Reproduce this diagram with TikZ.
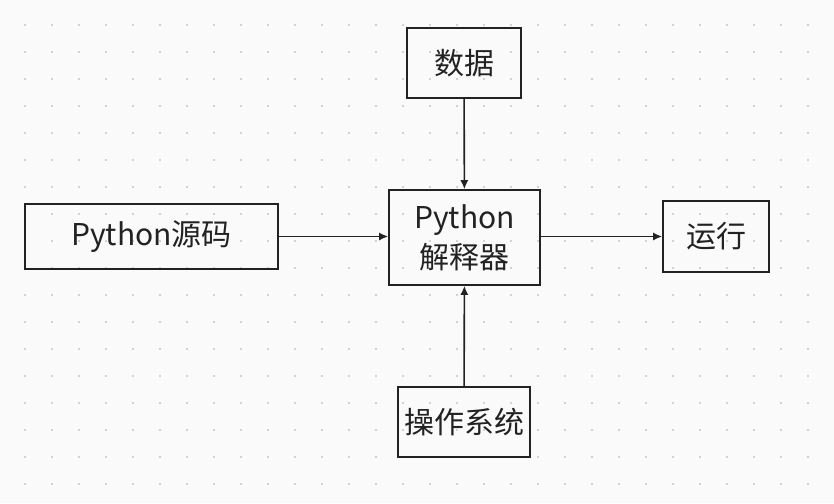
\documentclass[tikz,border=0pt]{standalone}
\usepackage{fontspec}
\setmainfont{Noto Sans CJK SC}
\usepackage{tikz}
\usetikzlibrary{arrows.meta}
\definecolor{bgpaper}{HTML}{FAFAFA}
\definecolor{griddot}{HTML}{D2D2D2}
\definecolor{ink}{HTML}{222222}
\tikzstyle{block} = [rectangle, draw=ink, line width=1.6pt, inner sep=0pt, align=center, font=\fontsize{30}{40}\selectfont, text=ink]
\tikzstyle{line} = [draw, color=ink, line width=1.6pt, -{Latex[length=9pt,width=8pt]}]

\begin{document}
\begin{tikzpicture}[x=1pt, y=-1pt]
		% Background and dots
		\fill[bgpaper] (0,0) rectangle (834,503);
		\useasboundingbox (0,0) rectangle (834,503);
		\foreach \i in {0,...,29}
			\foreach \j in {0,...,17}
				\fill[griddot] ({25+27*\i-1},{25+27*\j-1}) rectangle +(2,2);
		% Place nodes
		\node [block, minimum width=114pt, minimum height=70pt] (data) at (464,63) {数据};
		\node [block, minimum width=151pt, minimum height=95pt] (interp) at (464.5,237.5) {Python\\解释器};
		\node [block, minimum width=253pt, minimum height=65pt] (source) at (151.5,236.5) {Python源码};
		\node [block, minimum width=106pt, minimum height=71pt] (run) at (716,236.5) {运行};
		\node [block, minimum width=132pt, minimum height=70pt] (os) at (464,422) {操作系统};
		% Draw edges
		\path [line] (data) -- (interp);
		\path [line] (source) -- (source -| interp.west);
		\path [line] (os) -- (interp);
		\path [line] (interp.east |- run) -- (run);
	\end{tikzpicture}
\end{document}
